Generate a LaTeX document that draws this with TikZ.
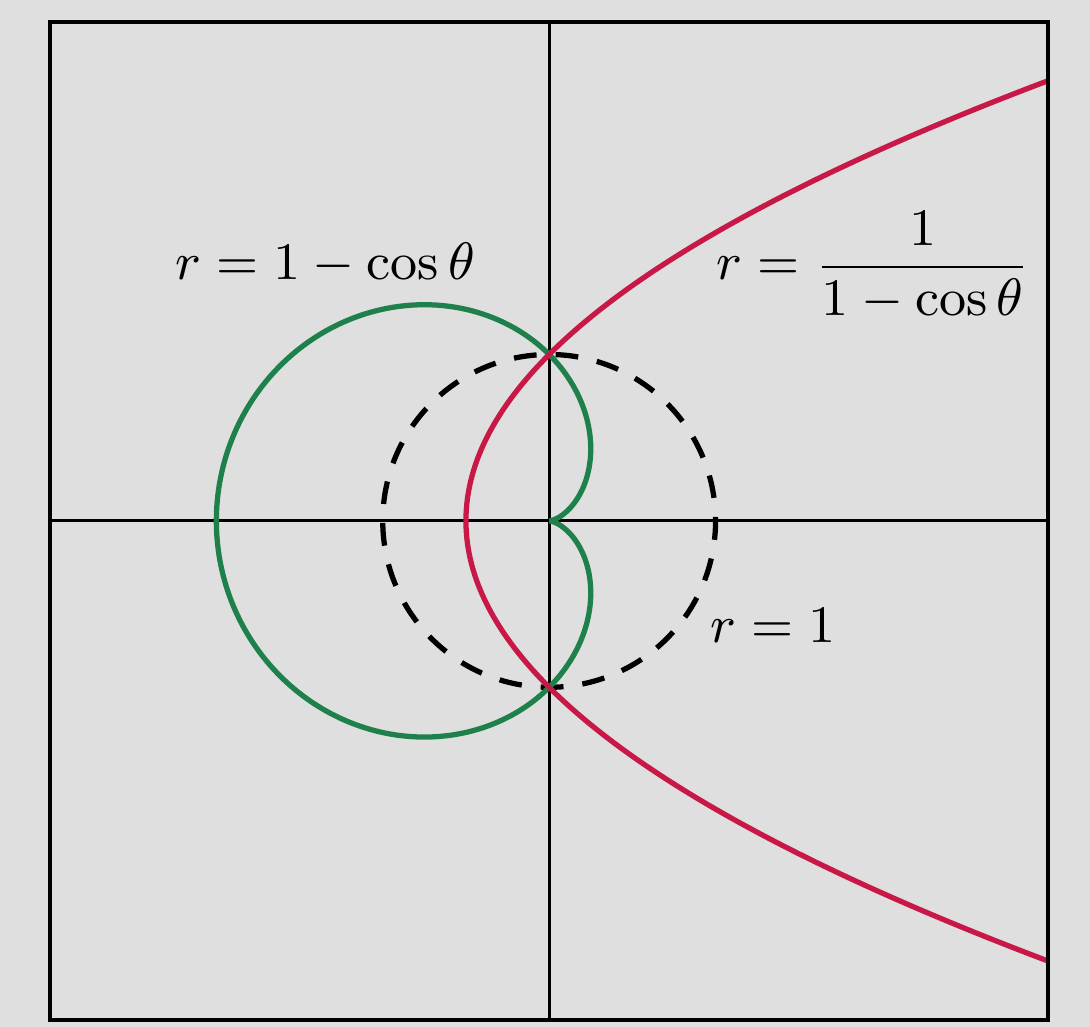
\documentclass[tikz,border=0pt]{standalone}
\usepackage{amsmath}
\usepackage{tikz}
\usetikzlibrary{arrows.meta,positioning,calc}
\definecolor{paper}{HTML}{DFDFDF}
\definecolor{cardgreen}{RGB}{30,128,75}
\definecolor{parared}{RGB}{200,24,72}

\begin{document}
\begin{tikzpicture}[>=Latex,every node/.style={font=\fontsize{9.1}{11}\selectfont},curve/.style={line width=0.9pt},axis/.style={line width=0.5pt}]
    \fill[paper] (-3.30,-3.04) rectangle (3.25,3.13);
    \useasboundingbox (-3.30,-3.04) rectangle (3.25,3.13);
    \draw[axis] (-3,0)--(3,0);
    \draw[axis] (0,-3)--(0,3);
    \draw[curve,dash pattern=on 3.9pt off 3.25pt,dash phase=3.2pt] (0,0) circle (1);
    \draw[curve,cardgreen,domain=0:360,samples=240,smooth] plot ({(1-cos(\x))*cos(\x)},{(1-cos(\x))*sin(\x)});
    \draw[curve,parared,domain=-2.6458:2.6458,samples=120,smooth] plot ({(\x*\x-1)/2},{\x});
    \draw[line width=0.65pt] (-3,-3) rectangle (3,3);
    \node (card) at (-1.345,1.545) {$r=1-\cos\theta$};
    \node (para) at (1.95,1.53) {$r=\dfrac{1}{1-\cos\theta}$};
    \node (unit) at (1.345,-0.631) {$r=1$};
  \end{tikzpicture}
\end{document}
